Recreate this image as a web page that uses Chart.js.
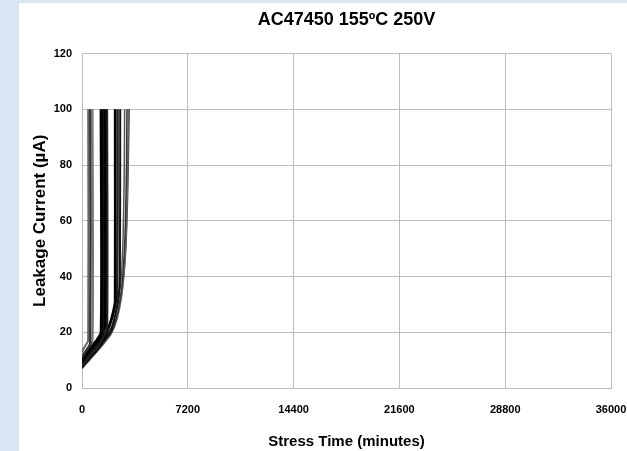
<!DOCTYPE html>
<html>
<head>
<meta charset="utf-8">
<script src="https://cdn.jsdelivr.net/npm/chart.js@4.4.1/dist/chart.umd.min.js"></script>
<style>
  html, body { margin: 0; padding: 0; }
  body { width: 627px; height: 451px; background: #d9e5f3; overflow: hidden; }
  #panel { position: absolute; left: 19px; top: 3px; width: 608px; height: 448px; background: #fff; }
</style>
</head>
<body>
<div id="panel"><canvas id="leak" width="608" height="448"></canvas></div>
<script>
// AC47450 155C 250V leakage current vs stress time

const xTicks = [0, 7200, 14400, 21600, 28800, 36000];
const yTicks = [0, 20, 40, 60, 80, 100, 120];

// early failures (~400-700 min)
const timeA1 = [0, 200, 420, 420];
const curA1 = [13, 15, 17, 100];
const timeA2 = [0, 300, 560, 560];
const curA2 = [11, 13.5, 16, 100];
const timeA3 = [0, 350, 720, 720];
const curA3 = [12, 14, 17, 100];

// ~1300-1700 min
const timeB1 = [0, 400, 800, 1300, 1300];
const curB1 = [10, 13, 15.5, 19, 100];
const timeB2 = [0, 400, 800, 1200, 1400, 1400];
const curB2 = [9, 12, 14.5, 17.5, 20, 100];
const timeB3 = [0, 500, 1000, 1400, 1550, 1550];
const curB3 = [11, 14, 17, 20.5, 22, 100];
const timeB4 = [0, 500, 1000, 1400, 1680, 1680];
const curB4 = [8, 11.5, 14.5, 18, 21.5, 100];

// ~2250-2600 min
const timeC1 = [0, 500, 1000, 1500, 1900, 2150, 2250, 2250];
const curC1 = [8, 11, 14.5, 18, 23, 28, 31, 100];
const timeC2 = [0, 500, 1000, 1500, 1900, 2200, 2400, 2420];
const curC2 = [9, 12, 15, 18.5, 23, 28, 34, 100];
const timeC3 = [0, 500, 1000, 1500, 2000, 2300, 2500, 2580, 2600];
const curC3 = [7.5, 10.5, 13.5, 17, 21, 27, 33, 40, 100];

// last ones, smooth run-away (~2900-3200 min)
const timeD1 = [0, 500, 1000, 1500, 2000, 2300, 2550, 2700, 2800, 2870, 2900];
const curD1 = [8, 11, 14, 17.5, 22, 27, 34, 42, 55, 75, 100];
const timeD2 = [0, 500, 1000, 1500, 2000, 2300, 2600, 2800, 2950, 3030, 3060];
const curD2 = [7, 10, 13, 16.5, 20, 24, 32, 42, 58, 80, 100];
const timeD3 = [0, 500, 1000, 1500, 2000, 2400, 2700, 2900, 3050, 3130, 3170];
const curD3 = [7.5, 10.5, 13, 16, 19.5, 25, 33, 44, 62, 85, 100];
const timeD4 = [0, 500, 1000, 1500, 2000, 2400, 2700, 2950, 3100, 3180, 3210];
const curD4 = [9, 11.5, 14, 17, 20.5, 26, 34, 47, 68, 90, 100];

function pts(t, v) {
    return t.map((x, i) => ({ x: x, y: v[i] }));
}

function series(t, v, color, width) {
    return {
        data: pts(t, v),
        borderColor: color,
        borderWidth: width,
        pointRadius: 0,
        tension: 0.2,
        fill: false
    };
}

const datasets = [
    series(timeA1, curA1, '#666666', 2),
    series(timeA2, curA2, '#333333', 2.5),
    series(timeA3, curA3, '#777777', 2),
    series(timeB1, curB1, '#000000', 3),
    series(timeB2, curB2, '#111111', 3),
    series(timeB3, curB3, '#000000', 3),
    series(timeB4, curB4, '#222222', 3),
    series(timeC1, curC1, '#000000', 2.5),
    series(timeC2, curC2, '#222222', 2.5),
    series(timeC3, curC3, '#111111', 2),
    series(timeD1, curD1, '#555555', 1.5),
    series(timeD2, curD2, '#333333', 1.5),
    series(timeD3, curD3, '#666666', 1.5),
    series(timeD4, curD4, '#444444', 1.5)
];

Chart.defaults.font.family = "'Liberation Sans', Arial, sans-serif";
Chart.defaults.color = '#000';

const ctx = document.getElementById('leak').getContext('2d');
new Chart(ctx, {
    type: 'line',
    data: { datasets },
    options: {
        responsive: false,
        animation: false,
        layout: { padding: 0 },
        plugins: {
            legend: { display: false },
            tooltip: { enabled: false },
            title: {
                display: true,
                text: 'AC47450 155ºC 250V',
                fullSize: false,
                color: '#000',
                font: { size: 18, weight: 'bold' },
                padding: { top: 6, bottom: 23 }
            }
        },
        scales: {
            x: {
                type: 'linear',
                min: 0,
                max: 36000,
                afterBuildTicks: s => { s.ticks = xTicks.map(v => ({ value: v })); },
                afterFit: s => {
                    s.height = 63;
                    s.paddingLeft = 0;
                    s.paddingRight = 16;
                },
                ticks: {
                    padding: 15,
                    maxRotation: 0,
                    callback: v => String(v),
                    font: { size: 11, weight: 'bold' }
                },
                grid: { color: '#bdbdbd', drawTicks: false },
                border: { color: '#bdbdbd' },
                title: {
                    display: true,
                    text: 'Stress Time (minutes)',
                    font: { size: 15, weight: 'bold' },
                    padding: { top: 6, bottom: 0 }
                }
            },
            y: {
                min: 0,
                max: 120,
                afterBuildTicks: s => { s.ticks = yTicks.map(v => ({ value: v })); },
                afterFit: s => { s.width = 63; },
                ticks: {
                    padding: 10,
                    font: { size: 11, weight: 'bold' }
                },
                grid: { color: '#bdbdbd', drawTicks: false },
                border: { color: '#bdbdbd' },
                title: {
                    display: true,
                    text: 'Leakage Current (µA)',
                    font: { size: 17, weight: 'bold' },
                    padding: { top: 11, bottom: 0 }
                }
            }
        }
    }
});
</script>
</body>
</html>
